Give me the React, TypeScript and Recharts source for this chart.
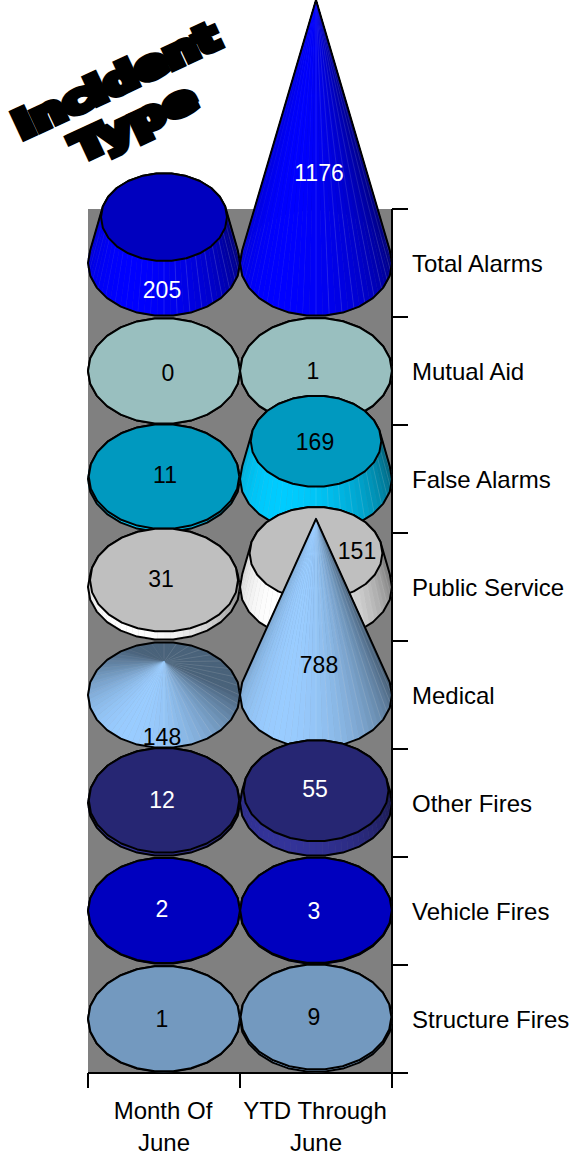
import React from "react";
import { ScatterChart, Scatter, XAxis, YAxis, CartesianGrid } from "recharts";

const columns = ["Month Of June", "YTD Through June"];
const incidentTypes = [
  "Total Alarms",
  "Mutual Aid",
  "False Alarms",
  "Public Service",
  "Medical",
  "Other Fires",
  "Vehicle Fires",
  "Structure Fires",
];
const monthOfJune = [205, 0, 11, 31, 148, 12, 2, 1];
const ytdThroughJune = [1176, 1, 169, 151, 788, 55, 3, 9];

const points = incidentTypes.flatMap((row, r) => [
  { column: columns[0], row, value: monthOfJune[r], r, c: 0 },
  { column: columns[1], row, value: ytdThroughJune[r], r, c: 1 },
]);

// ---- styling -----------------------------------------------------------
const sideColors = ["#0000ff", "#ccffff", "#00ccff", "#ffffff", "#99ccff", "#333399", "#0000ff", "#99ccff"];
const lightText = new Set(["Total Alarms", "Other Fires", "Vehicle Fires"]);
const coneMarks = new Set(["1-Total Alarms", "0-Medical", "1-Medical"]);
const FONT = "'Liberation Sans', Arial, sans-serif";
const RISE_PER_UNIT = 0.2236;
const TAPER_UNITS = 1200;
const BASE_RX = 76;
const BASE_RY = 53;
// hand-placed data labels, relative to the top of each mark
const labelNudge: Record<string, [number, number]> = {
  "0-Total Alarms": [-2, 72],
  "1-Total Alarms": [3, 172],
  "0-Mutual Aid": [4, 1],
  "1-Mutual Aid": [-3, -1],
  "0-False Alarms": [1, -3],
  "1-False Alarms": [-1, 0],
  "0-Public Service": [-3, -2],
  "1-Public Service": [41, -3],
  "0-Medical": [-2, 74],
  "1-Medical": [3, 145],
  "0-Other Fires": [-2, -1],
  "1-Other Fires": [-1, -3],
  "0-Vehicle Fires": [-2, -3],
  "1-Vehicle Fires": [-2, 0],
  "0-Structure Fires": [-2, -1],
  "1-Structure Fires": [-2, -1],
};

function scale(hex: string, k: number) {
  const n = parseInt(hex.slice(1), 16);
  const f = (v: number) => Math.round(Math.min(255, v * k));
  return `rgb(${f((n >> 16) & 255)},${f((n >> 8) & 255)},${f(n & 255)})`;
}

function hull(pts: number[][]) {
  const s = [...pts].sort((a, b) => a[0] - b[0] || a[1] - b[1]);
  const cross = (o: number[], a: number[], b: number[]) =>
    (a[0] - o[0]) * (b[1] - o[1]) - (a[1] - o[1]) * (b[0] - o[0]);
  const build = (list: number[][]) => {
    const h: number[][] = [];
    for (const p of list) {
      while (h.length >= 2 && cross(h[h.length - 2], h[h.length - 1], p) <= 0) h.pop();
      h.push(p);
    }
    h.pop();
    return h;
  };
  return [...build(s), ...build([...s].reverse())];
}

const toPts = (list: number[][]) => list.map((p) => `${p[0].toFixed(1)},${p[1].toFixed(1)}`).join(" ");

function ring(cx: number, cy: number, rx: number, ry: number, n: number) {
  return Array.from({ length: n }, (_, i) => {
    const a = (i / n) * Math.PI * 2;
    return [cx + rx * Math.cos(a), cy + ry * Math.sin(a)];
  });
}

function shade(aRad: number) {
  const diff = Math.abs(((aRad * 180) / Math.PI - 120 + 540) % 360 - 180);
  const c = Math.cos((diff * 0.75 * Math.PI) / 180);
  return 0.48 + 0.52 * Math.max(0, c);
}

const N = 72;

function MarkShape(props: any) {
  const { cx, cy } = props;
  const d = props.payload ?? props;
  const { value, row, r, c } = d;
  const side = sideColors[r];
  const key = `${c}-${row}`;
  const isCone = coneMarks.has(key);
  const rise = value * RISE_PER_UNIT;
  const taper = isCone ? 0 : Math.max(0, 1 - value / TAPER_UNITS);
  const topY = cy - rise;
  const rx = BASE_RX * taper;
  const ry = BASE_RY * taper;
  const base = ring(cx, cy, BASE_RX, BASE_RY, N);
  const top = ring(cx, topY, rx, ry, N);
  const order = Array.from({ length: N }, (_, i) => i).sort(
    (a, b) => Math.sin(((a + 0.5) / N) * 2 * Math.PI) - Math.sin(((b + 0.5) / N) * 2 * Math.PI)
  );
  const coarseBase = ring(cx, cy, BASE_RX, BASE_RY, 26);
  const coarseTop = ring(cx, topY, rx, ry, 26);
  const outline = hull([...coarseBase, ...(isCone ? [[cx, topY]] : coarseTop)]);
  return (
    <g>
      {rise > 0.1 &&
        order.map((i) => {
          const j = (i + 1) % N;
          const a = ((i + 0.5) / N) * 2 * Math.PI;
          const fill = scale(side, shade(a));
          return (
            <g key={i}>
              <polygon points={toPts([base[i], base[j], top[j], top[i]])} fill={fill} stroke={fill} strokeWidth={0.5} />
              {i % 2 === 0 && rise > 20 && (Math.sin(a) > 0 || isCone) && (
                <line
                  x1={base[i][0]}
                  y1={base[i][1]}
                  x2={top[i][0]}
                  y2={top[i][1]}
                  stroke="#ffffff"
                  strokeOpacity={0.16}
                  strokeWidth={0.7}
                />
              )}
            </g>
          );
        })}
      <polygon points={toPts(outline)} fill={rise > 0.1 ? "none" : scale(side, 0.75)} stroke="#000" strokeWidth={2} strokeLinejoin="round" />
      {!isCone && (
        <polygon points={toPts(coarseTop)} fill={scale(side, 0.75)} stroke="#000" strokeWidth={2} strokeLinejoin="round" />
      )}
    </g>
  );
}

function ValueLabel(props: any) {
  const { cx, cy } = props;
  const d = props.payload ?? props;
  const { value, row, c } = d;
  const key = `${c}-${row}`;
  const [dx, dy] = labelNudge[key] ?? [0, 0];
  const topY = cy - value * RISE_PER_UNIT;
  return (
    <text
      x={cx + dx}
      y={topY + dy}
      dy={9}
      textAnchor="middle"
      fontFamily={FONT}
      fontSize={23}
      stroke="none"
      fill={lightText.has(row) ? "#ffffff" : "#000000"}
    >
      {value}
    </text>
  );
}

function XTick(props: any) {
  const { x, payload, index } = props;
  const label: string = payload.value;
  const cut = label.lastIndexOf(" ");
  const half = 76;
  const axisY = 1073;
  if (columns[index] !== label) return null;
  return (
    <g>
      <line x1={x - half} x2={x - half} y1={axisY} y2={axisY + 15} stroke="#000" strokeWidth={2} />
      {index === columns.length - 1 && (
        <line x1={x + half} x2={x + half} y1={axisY} y2={axisY + 15} stroke="#000" strokeWidth={2} />
      )}
      <text x={x - 1} y={axisY + 46} textAnchor="middle" fontFamily={FONT} fontSize={24} fill="#000" stroke="none">
        {label.slice(0, cut)}
      </text>
      <text x={x} y={axisY + 78} textAnchor="middle" fontFamily={FONT} fontSize={24} fill="#000" stroke="none">
        {label.slice(cut + 1)}
      </text>
    </g>
  );
}

function YTick(props: any) {
  const { y, payload, index } = props;
  const half = 54;
  const axisX = 392;
  return (
    <g>
      <line x1={axisX} x2={axisX + 16} y1={y - half} y2={y - half} stroke="#000" strokeWidth={2} />
      {index === incidentTypes.length - 1 && (
        <line x1={axisX} x2={axisX + 16} y1={y + half} y2={y + half} stroke="#000" strokeWidth={2} />
      )}
      <text x={412} y={y + 9} textAnchor="start" fontFamily={FONT} fontSize={24} fill="#000" stroke="none">
        {payload.value}
      </text>
    </g>
  );
}

export default function App() {
  return (
    <div style={{ position: "absolute", left: 0, top: 0, width: 570, height: 1155 }}>
      <ScatterChart width={570} height={1155} margin={{ top: 209, right: 0, bottom: 0, left: 88 }}>
        <CartesianGrid horizontal={false} vertical={false} fill="#808080" />
        <XAxis
          xAxisId="main"
          dataKey="column"
          type="category"
          scale="band"
          allowDuplicatedCategory={false}
          ticks={columns}
          height={82}
          interval={0}
          tickLine={false}
          axisLine={{ stroke: "#000", strokeWidth: 2 }}
          tick={<XTick />}
        />
        <YAxis
          yAxisId="main"
          dataKey="row"
          type="category"
          scale="band"
          reversed
          orientation="right"
          allowDuplicatedCategory={false}
          width={178}
          interval={0}
          tickLine={false}
          axisLine={{ stroke: "#000", strokeWidth: 2 }}
          tick={<YTick />}
        />
        <XAxis xAxisId="edge" orientation="top" type="number" domain={[0, 1]} height={0} tick={false} tickLine={false} axisLine={{ stroke: "#000", strokeWidth: 2 }} />
        <YAxis yAxisId="edge" orientation="left" type="number" domain={[0, 1]} width={0} tick={false} tickLine={false} axisLine={{ stroke: "#000", strokeWidth: 2 }} />
        <Scatter xAxisId="main" yAxisId="main" data={points} shape={<MarkShape />} isAnimationActive={false} />
        <Scatter xAxisId="main" yAxisId="main" data={points} shape={<ValueLabel />} isAnimationActive={false} />
        <text
          x={116}
          y={94}
          transform="rotate(-25 116 80)"
          textAnchor="middle"
          fontFamily="'DejaVu Sans', sans-serif"
          fontWeight={700}
          fontSize={38}
          stroke="#000"
          strokeWidth={6.5}
          strokeLinejoin="miter"
          textLength={222}
          lengthAdjust="spacingAndGlyphs"
        >
          Incident
        </text>
        <text
          x={134}
          y={136}
          transform="rotate(-25 134 122)"
          textAnchor="middle"
          fontFamily="'DejaVu Sans', sans-serif"
          fontWeight={700}
          fontSize={38}
          stroke="#000"
          strokeWidth={6.5}
          strokeLinejoin="miter"
          textLength={132}
          lengthAdjust="spacingAndGlyphs"
        >
          Type
        </text>
      </ScatterChart>
    </div>
  );
}
